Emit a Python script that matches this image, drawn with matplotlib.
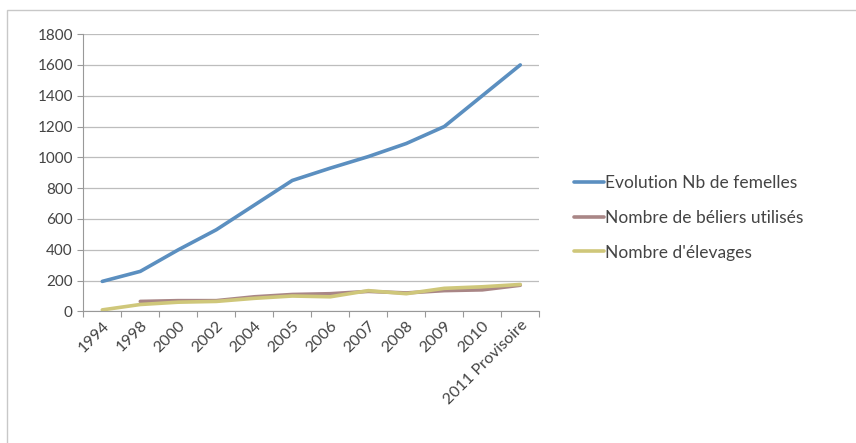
import numpy as np
import matplotlib
matplotlib.use("Agg")
import matplotlib.pyplot as plt
from matplotlib.patches import Rectangle

# Données
annees = ["1994", "1998", "2000", "2002", "2004", "2005", "2006",
          "2007", "2008", "2009", "2010", "2011 Provisoire"]
femelles = [195, 260, 400, 530, 690, 850, 930, 1005, 1090, 1200, 1400, 1600]
beliers = [np.nan, 65, 70, 70, 95, 110, 115, 130, 120, 135, 140, 170]
elevages = [10, 45, 60, 65, 85, 100, 95, 135, 115, 150, 160, 175]
series_noms = ["Evolution Nb de femelles", "Nombre de béliers utilisés",
               "Nombre d'élevages"]
couleurs = ["#5b8fc0", "#a98686", "#cfc77a"]

plt.rcParams['font.family'] = ['Lato', 'DejaVu Sans']

fig = plt.figure(figsize=(8.56, 4.43), dpi=100)
ax = fig.add_axes([0.0973, 0.297, 0.5327, 0.626])

x = np.arange(len(annees))
for serie, nom, c in zip([femelles, beliers, elevages], series_noms, couleurs):
    ax.plot(x, serie, color=c, lw=2.6, label=nom, solid_capstyle='round')

ax.set_xlim(-0.5, len(annees) - 0.5)
ax.set_ylim(0, 1800)
ax.set_yticks(range(0, 1801, 200))
ax.yaxis.grid(True, color="#bdbdbd", lw=0.9)
ax.set_axisbelow(True)

# graduations entre les catégories, façon Excel
ax.set_xticks(np.arange(-0.5, len(annees), 1))
ax.set_xticklabels([])
ax.set_xticks(x, minor=True)
ax.set_xticklabels(annees, minor=True, rotation=45, ha='right',
                   rotation_mode='anchor', fontsize=11.5, color="#444444")
ax.tick_params(axis='x', which='minor', length=0, pad=5)
ax.tick_params(axis='x', which='major', length=4, color="#999999")
ax.tick_params(axis='y', length=4, color="#999999", labelsize=11,
               labelcolor="#444444")

for s in ['top', 'right']:
    ax.spines[s].set_visible(False)
for s in ['left', 'bottom']:
    ax.spines[s].set_color("#999999")

leg = fig.legend(loc='center left', bbox_to_anchor=(0.652, 0.508),
                 frameon=False, fontsize=12.5, handlelength=1.75,
                 handletextpad=0.05, labelspacing=1.07)
for t in leg.get_texts():
    t.set_color("#444444")

# cadre du graphique (seuls les bords gauche et haut sont visibles)
fig.patches.append(Rectangle((0.008, -0.05), 1.05, 1.027, transform=fig.transFigure,
                             fill=False, edgecolor="#c8c8c8", lw=1))

fig.savefig("out.png", dpi=100)
